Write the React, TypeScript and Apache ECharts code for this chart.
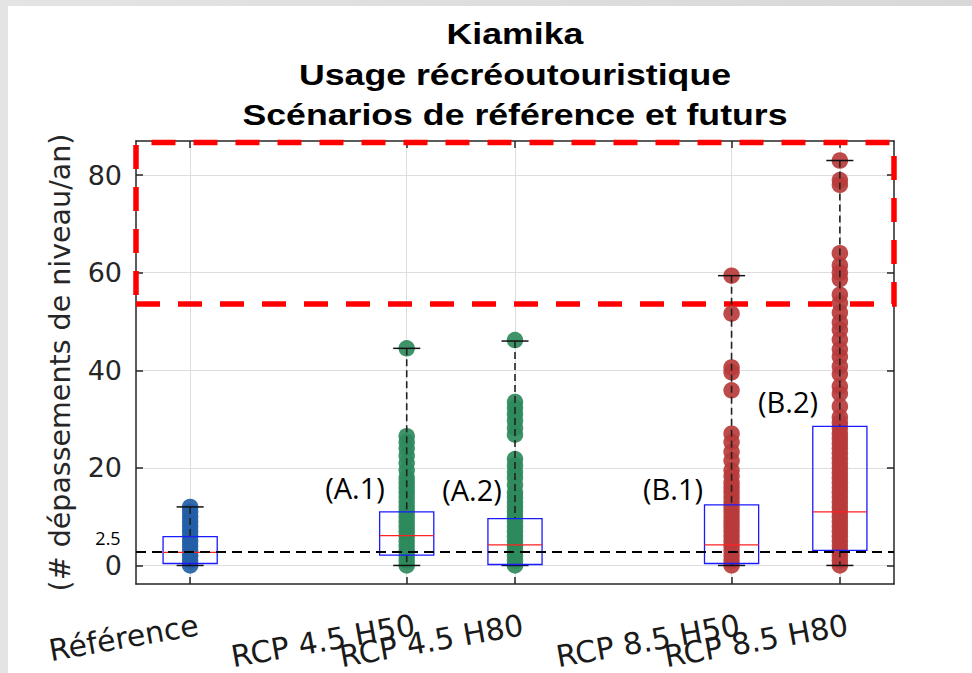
import React, { useEffect, useRef } from 'react';
import * as echarts from 'echarts';

// ---- data ----
const categories = ['Référence', 'RCP 4.5 H50', 'RCP 4.5 H80', 'RCP 8.5 H50', 'RCP 8.5 H80'];
const positions = [1, 3, 4, 6, 7];
const yTicks = [0, 20, 40, 60, 80];
// labels split over two label rows so that the overlapping neighbours are both kept
const labelPositionsA = [1, 4, 7];
const labelPositionsB = [3, 6];

const refValues = [0, 1, 2, 3, 4, 5, 6, 7, 8, 9, 10, 11, 12];
const a1Values = [44.5, 26.5, 25.3, 24, 22.5, 21, 19.5, 18, 17, 16, 15, 14, 13, 12, 11, 10, 9, 8, 7, 6, 5, 4, 3, 2, 1, 0];
const a2Values = [46.2, 33.5, 32.3, 31, 29.7, 28.2, 26.8, 21.8, 20.5, 19.2, 18, 16.5, 15, 14, 13, 12, 11, 10, 9, 8, 7, 6, 5, 4, 3, 2, 1, 0];
const b1Values = [59.4, 51.6, 40.6, 39.6, 35.9, 27, 25.3, 23.3, 21.5, 19.5, 18.3, 17, 16, 15, 14, 13, 12, 11, 10, 9, 8, 7, 6, 5, 4, 3, 2, 1, 0];
const b2Values = [83, 79, 78, 64, 61.5, 60, 58.7, 55.5, 53.8, 51.8, 49.8, 48.3, 46.3, 44.3, 42.8, 40.8, 39.2, 36.7, 35.2, 32.6, 30.4, 29.3, 28.2, 27, 26, 25, 24, 23, 22, 21, 20, 19, 18, 17, 16, 15, 14, 13, 12, 11, 10, 9, 8, 7, 6, 5, 4, 3, 2, 1, 0];

const boxMin = [0, 0, 0, 0, 0];
const boxQ1 = [0.4, 2.1, 0.2, 0.4, 3.1];
const boxMedian = [2.7, 6.1, 4.2, 4.2, 11.0];
const boxQ3 = [5.9, 11.0, 9.6, 12.4, 28.5];
const boxMax = [12, 44.5, 46, 59.4, 83];

const threshold = 2.9;
const highlightLow = 53.6;
const highlightHigh = 86.7;

const groupValues = [refValues, a1Values, a2Values, b1Values, b2Values];
const groupColors = ['#235ea6', '#2e8a5c', '#2e8a5c', '#b83b3b', '#b83b3b'];

const annotations = [
  { text: '(A.1)', x: 347, y: 481 },
  { text: '(A.2)', x: 464, y: 483 },
  { text: '(B.1)', x: 665, y: 482 },
  { text: '(B.2)', x: 780, y: 395 },
];

const titleLines = ['Kiamika', 'Usage récréoutouristique', 'Scénarios de référence et futurs'];

export default function App() {
  const ref = useRef<HTMLDivElement>(null);

  useEffect(() => {
    if (!ref.current) return;
    const chart = echarts.init(ref.current, null, { renderer: 'svg' });

    const axisColor = '#262626';
    const scatterSeries = groupValues.map((vals, i) => ({
      type: 'scatter',
      name: categories[i],
      symbol: 'circle',
      symbolSize: 16.5,
      itemStyle: { color: groupColors[i], opacity: 0.92 },
      data: vals.map((v) => [positions[i], v]),
      z: 2,
    }));

    const labelFormatter = (v: number) => {
      const k = positions.indexOf(v);
      return k >= 0 ? categories[k] : '';
    };
    const xLabelStyle = {
      showMinLabel: true,
      showMaxLabel: true,
      hideOverlap: false,
      rotate: 10,
      margin: 42,
      padding: [0, -8, 0, 0],
      fontSize: 30,
      fontFamily: 'DejaVu Sans',
      color: '#1a1a1a',
      formatter: labelFormatter,
    };

    const option: any = {
      animation: false,
      backgroundColor: 'transparent',
      grid: { left: 128, top: 135, right: 78, bottom: 89, containLabel: false },
      graphic: [
        ...titleLines.map((t, i) => ({
          type: 'text',
          x: 507,
          y: [28.5, 69.5, 109.5][i],
          scaleX: 1.23,
          style: {
            text: t,
            fontFamily: 'Liberation Sans',
            fontWeight: 'bold',
            fontSize: 29,
            fill: '#000',
            textAlign: 'center',
            textVerticalAlign: 'middle',
          },
        })),
        ...annotations.map((a) => ({
          type: 'text',
          x: a.x,
          y: a.y,
          style: {
            text: a.text,
            fontFamily: 'Open Sans',
            fontSize: 29,
            fill: '#000',
            textAlign: 'center',
            textVerticalAlign: 'middle',
          },
        })),
        {
          type: 'text',
          x: 100,
          y: 532,
          style: {
            text: '2.5',
            fontFamily: 'Open Sans',
            fontSize: 18,
            fill: '#000',
            textAlign: 'center',
            textVerticalAlign: 'middle',
          },
        },
      ],
      xAxis: [
        {
          type: 'value',
          min: 0.5,
          max: 7.5,
          position: 'bottom',
          axisLine: { onZero: false, lineStyle: { color: axisColor, width: 1.5 } },
          axisTick: { inside: true, length: 7, customValues: positions, lineStyle: { color: axisColor, width: 1.5 } },
          axisLabel: { ...xLabelStyle, customValues: labelPositionsA },
          splitLine: { show: true, lineStyle: { color: '#dedede', width: 1 } },
        },
        {
          type: 'value',
          min: 0.5,
          max: 7.5,
          position: 'top',
          axisLine: { onZero: false, lineStyle: { color: axisColor, width: 1.5 } },
          axisTick: { inside: true, length: 7, customValues: positions, lineStyle: { color: axisColor, width: 1.5 } },
          axisLabel: { show: false },
          splitLine: { show: false },
        },
        {
          type: 'value',
          min: 0.5,
          max: 7.5,
          position: 'bottom',
          offset: 0,
          axisLine: { show: false, onZero: false },
          axisTick: { show: false },
          axisLabel: { ...xLabelStyle, customValues: labelPositionsB },
          splitLine: { show: false },
        },
      ],
      yAxis: [
        {
          type: 'value',
          min: -3.8,
          max: 87,
          position: 'left',
          name: '(# dépassements de niveau/an)',
          nameLocation: 'middle',
          nameRotate: 90,
          nameGap: 61,
          nameTextStyle: { fontSize: 28.5, fontFamily: 'DejaVu Sans', color: axisColor },
          axisLine: { onZero: false, lineStyle: { color: axisColor, width: 1.5 } },
          axisTick: { inside: true, length: 7, customValues: yTicks, lineStyle: { color: axisColor, width: 1.5 } },
          axisLabel: {
            customValues: yTicks,
            margin: 14,
            fontSize: 27,
            fontFamily: 'DejaVu Sans',
            color: axisColor,
          },
          splitLine: { show: true, lineStyle: { color: '#dedede', width: 1 } },
        },
        {
          type: 'value',
          min: -3.8,
          max: 87,
          position: 'right',
          axisLine: { onZero: false, lineStyle: { color: axisColor, width: 1.5 } },
          axisTick: { inside: true, length: 7, customValues: yTicks, lineStyle: { color: axisColor, width: 1.5 } },
          axisLabel: { show: false },
          splitLine: { show: false },
        },
      ],
      series: [
        ...scatterSeries,
        {
          type: 'custom',
          z: 4,
          xAxisIndex: 0,
          yAxisIndex: 0,
          encode: { x: 0, y: [1, 2, 3, 4, 5] },
          data: positions.map((p, i) => [p, boxMin[i], boxQ1[i], boxMedian[i], boxQ3[i], boxMax[i]]),
          renderItem: (params: any, api: any) => {
            const x = api.value(0);
            const mn = api.value(1);
            const q1 = api.value(2);
            const md = api.value(3);
            const q3 = api.value(4);
            const mx = api.value(5);
            const halfBox = 0.25;
            const halfCap = 0.125;
            const cTop = api.coord([x, mx]);
            const cBot = api.coord([x, mn]);
            const bTL = api.coord([x - halfBox, q3]);
            const bBR = api.coord([x + halfBox, q1]);
            const cQ3 = api.coord([x, q3]);
            const cQ1 = api.coord([x, q1]);
            const mL = api.coord([x - halfBox, md]);
            const mR = api.coord([x + halfBox, md]);
            const capL = api.coord([x - halfCap, mx]);
            const capR = api.coord([x + halfCap, mx]);
            const capLb = api.coord([x - halfCap, mn]);
            const capRb = api.coord([x + halfCap, mn]);
            const dash = { stroke: '#222', lineWidth: 1.6, lineDash: [7, 4], fill: null };
            const solid = { stroke: '#111', lineWidth: 1.5, fill: null };
            return {
              type: 'group',
              children: [
                { type: 'line', shape: { x1: cTop[0], y1: cTop[1], x2: cQ3[0], y2: cQ3[1] }, style: dash },
                { type: 'line', shape: { x1: cQ1[0], y1: cQ1[1], x2: cBot[0], y2: cBot[1] }, style: dash },
                { type: 'line', shape: { x1: capL[0], y1: capL[1], x2: capR[0], y2: capR[1] }, style: solid },
                { type: 'line', shape: { x1: capLb[0], y1: capLb[1], x2: capRb[0], y2: capRb[1] }, style: solid },
                {
                  type: 'rect',
                  shape: { x: bTL[0], y: bTL[1], width: bBR[0] - bTL[0], height: bBR[1] - bTL[1] },
                  style: { stroke: '#1a1aff', lineWidth: 1.3, fill: null },
                },
                { type: 'line', shape: { x1: mL[0], y1: mL[1], x2: mR[0], y2: mR[1] }, style: { stroke: '#ff2020', lineWidth: 1.3 } },
              ],
            };
          },
        },
        {
          type: 'line',
          data: [],
          z: 5,
          clip: false,
          markLine: {
            silent: true,
            symbol: 'none',
            label: { show: false },
            lineStyle: { color: '#000', width: 2, type: [10, 6] },
            data: [{ yAxis: threshold }],
          },
          markArea: {
            silent: true,
            label: { show: false },
            itemStyle: { color: 'rgba(0,0,0,0)', borderColor: '#ff0000', borderWidth: 5.5, borderType: [24, 18] },
            data: [[{ xAxis: 0.5, yAxis: highlightLow }, { xAxis: 7.5, yAxis: highlightHigh }]],
          },
        },
      ],
    };

    chart.setOption(option);
    return () => chart.dispose();
  }, []);

  return (
    <div style={{ position: 'fixed', left: 0, top: 0, width: 972, height: 673, background: 'linear-gradient(90deg, #e4e4e4, #d8d8d8)' }}>
      <div
        ref={ref}
        style={{ position: 'absolute', left: 8, top: 6, width: 964, height: 667, background: '#ffffff' }}
      />
    </div>
  );
}
